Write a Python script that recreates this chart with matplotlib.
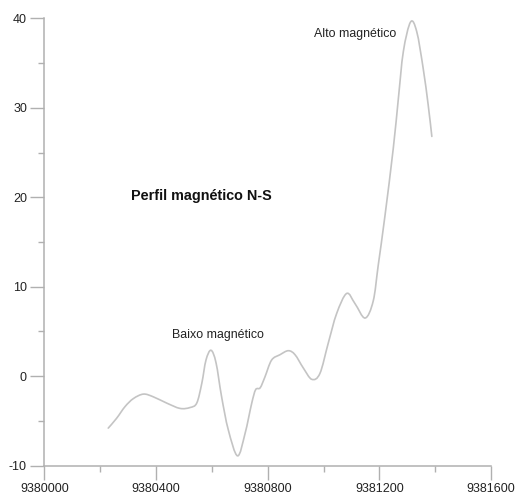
import matplotlib
matplotlib.use("Agg")
import matplotlib.pyplot as plt
import numpy as np
from matplotlib.path import Path
from matplotlib.patches import PathPatch
from matplotlib.ticker import MultipleLocator, FuncFormatter

plt.rcParams['font.family'] = ['Liberation Sans', 'DejaVu Sans']

# N-S magnetic profile: northing (m) and magnetic anomaly (nT)
northing = [
    9380229, 9380259, 9380289, 9380319, 9380355, 9380390, 9380438, 9380486,
    9380522, 9380546, 9380564, 9380579, 9380597, 9380615, 9380635, 9380659,
    9380692, 9380719, 9380743, 9380757, 9380773, 9380790, 9380814,
    9380844, 9380874, 9380898, 9380928, 9380958, 9380987, 9381017, 9381047,
    9381083, 9381113, 9381149, 9381178, 9381196, 9381220, 9381250,
    9381268, 9381286, 9381312, 9381334, 9381357, 9381375, 9381388,
]
anomaly = [
    -5.8, -4.7, -3.4, -2.5, -2.0, -2.3, -3.0, -3.6,
    -3.5, -3.0, -0.8, 1.8, 2.9, 1.5, -2.3, -6.0,
    -8.9, -6.4, -3.0, -1.5, -1.3, -0.1, 1.8,
    2.4, 2.85, 2.4, 0.9, -0.35, 0.3, 3.7, 7.0,
    9.25, 8.1, 6.5, 8.4, 12.4, 17.9, 25.5,
    31.0, 36.3, 39.6, 38.5, 34.4, 30.3, 26.8,
]

labels = ["Baixo magnético", "Alto magnético"]
label_pos = [(9380622, 4.6), (9381115, 38.2)]
title = "Perfil magnético N-S"
title_pos = (9380564, 20.1)


def smooth_path(xs, ys):
    """Catmull-Rom curve through the samples, expressed as cubic Bezier segments."""
    pts = np.column_stack([np.asarray(xs, float), np.asarray(ys, float)])
    ext = np.vstack([pts[0], pts, pts[-1]])
    verts = [pts[0]]
    codes = [Path.MOVETO]
    for i in range(1, len(ext) - 2):
        p0, p1, p2, p3 = ext[i - 1], ext[i], ext[i + 1], ext[i + 2]
        verts += [p1 + (p2 - p0) / 6.0, p2 - (p3 - p1) / 6.0, p2]
        codes += [Path.CURVE4] * 3
    return Path(verts, codes)


fig = plt.figure(figsize=(5.16, 5.03), dpi=100)
ax = fig.add_axes([0.0859, 0.0742, 0.8657, 0.8894])

ax.add_patch(PathPatch(smooth_path(northing, anomaly), facecolor="none",
                       edgecolor="#c4c4c4", lw=1.2, capstyle="round"))

ax.set_xlim(9380000, 9381600)
ax.set_ylim(-10, 40)

axis_col = "#b0b0b0"
for side in ("top", "right"):
    ax.spines[side].set_visible(False)
for side in ("left", "bottom"):
    ax.spines[side].set_color(axis_col)
    ax.spines[side].set_linewidth(1.1)

ax.xaxis.set_major_locator(MultipleLocator(400))
ax.xaxis.set_minor_locator(MultipleLocator(200))
ax.yaxis.set_major_locator(MultipleLocator(10))
ax.yaxis.set_minor_locator(MultipleLocator(5))
ax.xaxis.set_major_formatter(FuncFormatter(lambda v, p: f"{int(round(v))}"))
ax.yaxis.set_major_formatter(FuncFormatter(lambda v, p: f"{int(round(v))}"))

ax.tick_params(which="major", length=10, width=1.0, color=axis_col,
               labelsize=9, labelcolor="#222222", pad=2.5)
ax.tick_params(which="minor", length=4.5, width=1.0, color=axis_col)

for txt, (lx, ly) in zip(labels, label_pos):
    ax.text(lx, ly, txt, ha="center", va="center", fontsize=8.9, color="#222222")
ax.text(title_pos[0], title_pos[1], title, ha="center", va="center",
        fontsize=10.4, fontweight="bold", color="#111111")

fig.savefig("out.png", dpi=100)
